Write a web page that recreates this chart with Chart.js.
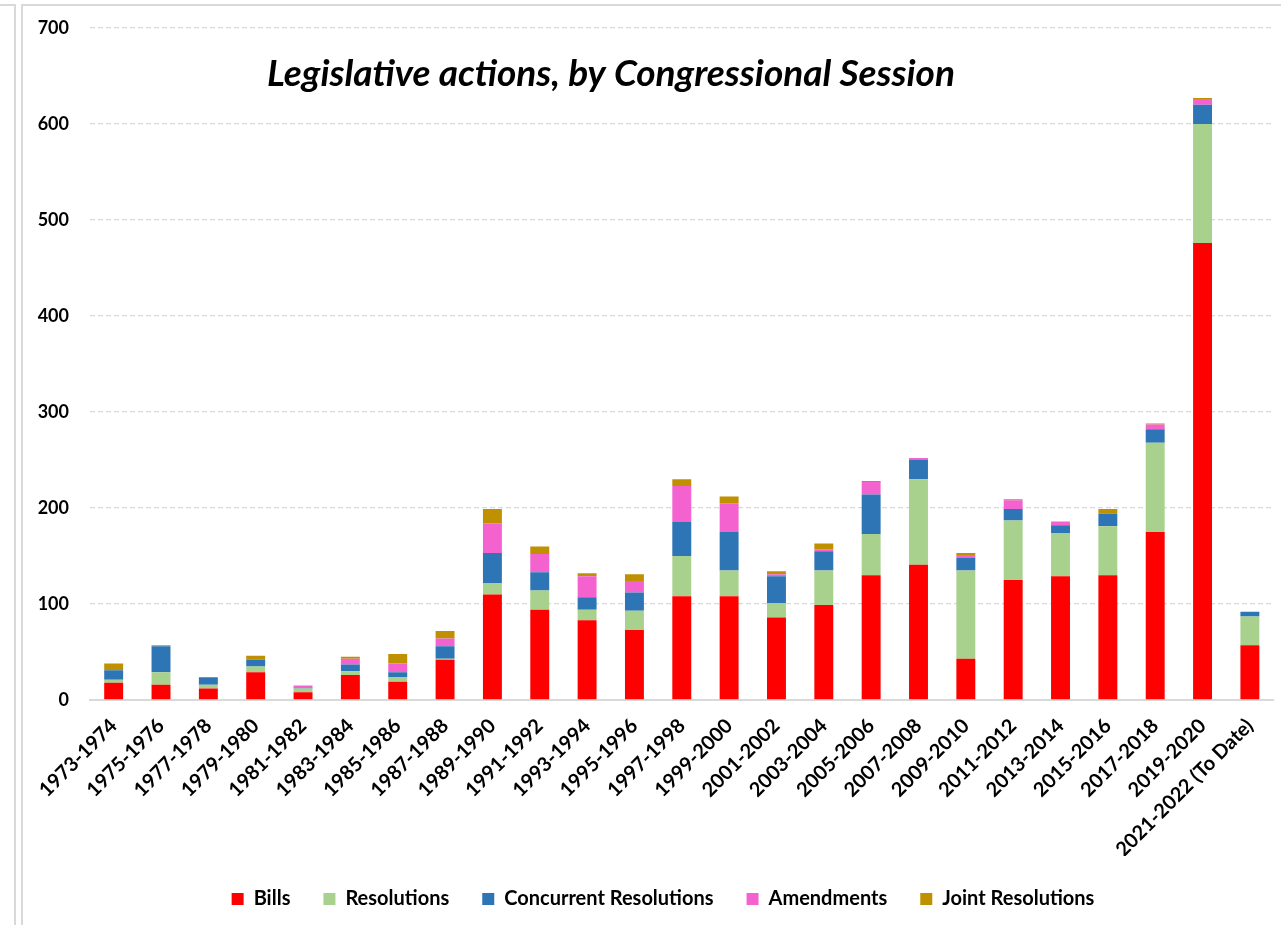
<!DOCTYPE html>
<html>
<head>
<meta charset="utf-8">
<script src="https://cdn.jsdelivr.net/npm/chart.js@4/dist/chart.umd.min.js"></script>
<style>
  html, body { margin: 0; padding: 0; background: #fff; overflow: hidden; }
  .frame { position: absolute; border: 2px solid #d9d9d9; box-sizing: border-box; }
  #sideFrame { left: -20px; top: 4px; width: 36px; height: 960px; }
  #mainFrame { left: 21px; top: 4px; width: 1300px; height: 960px; }
  #wrap { position: absolute; left: 0; top: 0; width: 1281px; height: 925px; }
</style>
</head>
<body>
<div class="frame" id="sideFrame"></div>
<div class="frame" id="mainFrame"></div>
<div id="wrap"><canvas id="chart"></canvas></div>
<script>
  // sessions of Congress, oldest first
  var sessions = ['1973-1974', '1975-1976', '1977-1978', '1979-1980', '1981-1982', '1983-1984',
    '1985-1986', '1987-1988', '1989-1990', '1991-1992', '1993-1994', '1995-1996', '1997-1998',
    '1999-2000', '2001-2002', '2003-2004', '2005-2006', '2007-2008', '2009-2010', '2011-2012',
    '2013-2014', '2015-2016', '2017-2018', '2019-2020', '2021-2022 (To Date)'];

  var bills       = [18, 16, 12, 29, 8, 26, 19, 42, 110, 94, 83, 73, 108, 108, 86, 99, 130, 141, 43, 125, 129, 130, 175, 476, 57];
  var resolutions = [3, 13, 4, 6, 4, 4, 5, 1, 12, 20, 11, 20, 42, 27, 15, 36, 43, 89, 92, 62, 45, 51, 93, 124, 30];
  var concurrent  = [10, 27, 7, 7, 1, 7, 5, 13, 31, 19, 13, 19, 36, 40, 28, 20, 41, 20, 13, 12, 8, 13, 14, 20, 5];
  var amendments  = [0, 0, 0, 0, 2, 6, 9, 8, 31, 19, 22, 12, 37, 30, 2, 2, 13, 2, 3, 9, 4, 0, 5, 6, 0];
  var joint       = [7, 1, 1, 4, 0, 2, 10, 8, 15, 8, 3, 7, 7, 7, 3, 6, 1, 0, 2, 1, 0, 5, 1, 1, 0];

  var yTicks = [0, 100, 200, 300, 400, 500, 600, 700];
  var chartTitle = 'Legislative actions, by Congressional Session';

  var FONT = 'Lato, "Open Sans", sans-serif';

  // title sits inside the plot, not in its own layout box
  var titleInside = {
    id: 'titleInside',
    afterDraw: function (chart) {
      var ctx = chart.ctx;
      ctx.save();
      ctx.font = 'italic bold 37px ' + FONT;
      ctx.fillStyle = '#000';
      ctx.textAlign = 'center';
      ctx.textBaseline = 'alphabetic';
      ctx.fillText(chartTitle, 611, 86);
      ctx.restore();
    }
  };

  // legend row is centred a little right of the canvas middle
  var legendNudge = {
    id: 'legendNudge',
    afterLayout: function (chart) {
      if (chart.legend) {
        chart.legend.left += 9;
        chart.legend.right += 9;
      }
    }
  };

  function series(label, data, color) {
    return {
      label: label,
      data: data,
      backgroundColor: color,
      borderWidth: 0,
      barPercentage: 0.4,
      categoryPercentage: 1
    };
  }

  new Chart(document.getElementById('chart'), {
    type: 'bar',
    data: {
      labels: sessions,
      datasets: [
        series('Bills', bills, '#ff0000'),
        series('Resolutions', resolutions, '#a9d18e'),
        series('Concurrent Resolutions', concurrent, '#2e75b6'),
        series('Amendments', amendments, '#f462d0'),
        series('Joint Resolutions', joint, '#bf9000')
      ]
    },
    options: {
      responsive: true,
      maintainAspectRatio: false,
      animation: false,
      layout: {
        padding: { top: 28, right: 7, bottom: 6, left: 34 }
      },
      plugins: {
        title: { display: false },
        tooltip: { enabled: false },
        legend: {
          position: 'bottom',
          labels: {
            boxWidth: 12,
            boxHeight: 12,
            padding: 33,
            color: '#000',
            font: { family: FONT, size: 20, weight: 'bold' }
          }
        }
      },
      scales: {
        x: {
          stacked: true,
          grid: { display: false, drawTicks: false },
          border: { display: true, color: '#d9d9d9', width: 2 },
          ticks: {
            autoSkip: false,
            maxRotation: 45,
            minRotation: 45,
            padding: 14,
            color: '#000',
            font: { family: FONT, size: 20, weight: 'bold' }
          },
          afterFit: function (scale) { scale.height = 156; }
        },
        y: {
          stacked: true,
          min: 0,
          max: 700,
          afterBuildTicks: function (scale) {
            scale.ticks = yTicks.map(function (v) { return { value: v }; });
          },
          // label gap comes from an invisible tick mark so it does not pad the top
          grid: {
            drawTicks: true,
            tickLength: 21,
            tickColor: 'rgba(0,0,0,0)',
            lineWidth: 1.3,
            color: function (c) { return c.tick && c.tick.value === 0 ? 'rgba(0,0,0,0)' : '#d9d9d9'; }
          },
          border: { display: false, dash: [5, 3] },
          ticks: {
            padding: 0,
            color: '#000',
            font: { family: FONT, size: 18, weight: 'bold' }
          },
          afterFit: function (scale) { scale.width = 56; }
        }
      }
    },
    plugins: [titleInside, legendNudge]
  });
</script>
</body>
</html>
